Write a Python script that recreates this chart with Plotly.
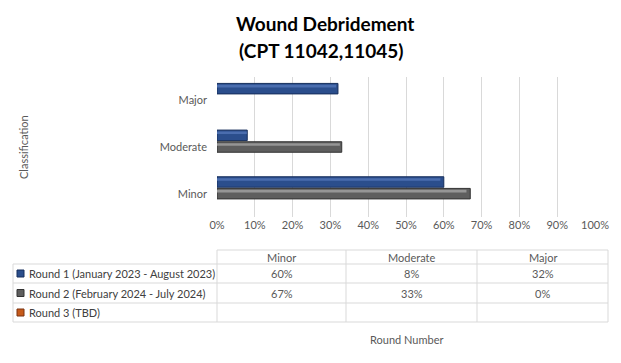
import plotly.graph_objects as go

# ---- data ----
categories = ["Minor", "Moderate", "Major"]
series_names = [
    "Round 1 (January 2023 - August 2023)",
    "Round 2 (February 2024 - July 2024)",
    "Round 3 (TBD)",
]
round1 = [60, 8, 32]
round2 = [67, 33, 0]
round3 = [None, None, None]
x_ticks = [0, 10, 20, 30, 40, 50, 60, 70, 80, 90, 100]
title_lines = ["Wound Debridement", "(CPT 11042,11045)"]
y_title = "Classification"
x_title = "Round Number"

# ---- styling ----
FONT = "Lato"
TXT = "#595959"
GRID = "#D9D9D9"
main_cols = ["#2B4E8C", "#5E5E5E", "#C65A1A"]
edge_cols = ["#172F5C", "#333333", "#7A3210"]
hi_cols = ["#4A6DAE", "#959595", "#E8874A"]
centers = [0.25, 0.0, -0.25]
bw = 0.225

W, H = 621, 363
L, R, T, B = 217, 595, 77, 217


def px(x):
    return (x - L) / (R - L)


def py(y):
    return (B - y) / (B - T)


fig = go.Figure()
ypos = list(range(len(categories)))
all_series = [round1, round2, round3]
for s, vals in enumerate(all_series):
    xv = [None if v is None else v / 100 for v in vals]
    lw = [0 if (v is None or v == 0) else 1 for v in vals]
    fig.add_trace(go.Bar(
        y=ypos, x=xv, orientation="h", name=series_names[s],
        width=bw, offset=centers[s] - bw / 2,
        marker=dict(color=main_cols[s], line=dict(color=edge_cols[s], width=lw)),
        showlegend=False, hoverinfo="x+name",
    ))
    # highlight stripe for bevel look
    fig.add_trace(go.Bar(
        y=ypos, x=[None if v is None or v == 0 else v / 100 * 0.985 for v in vals],
        orientation="h", width=0.055, offset=centers[s] + bw / 2 - 0.085,
        marker=dict(color=hi_cols[s], line=dict(width=0)),
        showlegend=False, hoverinfo="skip",
    ))

fig.update_layout(
    width=W, height=H, autosize=False,
    margin=dict(l=L, r=W - R, t=T, b=H - B, pad=0, autoexpand=False),
    paper_bgcolor="white", plot_bgcolor="white",
    barmode="overlay",
    font=dict(family=FONT, size=11, color=TXT),
    xaxis=dict(range=[0, 1], tickvals=[t / 100 for t in x_ticks],
               ticktext=[f"{t}%" for t in x_ticks], automargin=False,
               showgrid=True, gridcolor=GRID, gridwidth=1,
               zeroline=False, showline=False, ticks="",
               tickfont=dict(size=11, color=TXT)),
    yaxis=dict(range=[-0.5, len(categories) - 0.5], tickvals=ypos, automargin=False,
               ticktext=categories, showgrid=False, zeroline=False,
               showline=False, ticks="", ticklabelstandoff=9,
               tickfont=dict(size=11, color=TXT)),
)

ann = []
shapes = []


def label(text, x, y, size=11, color=TXT, xanchor="center", angle=0, family=FONT):
    ann.append(dict(text=text, x=px(x), y=py(y), xref="paper", yref="paper",
                    xanchor=xanchor, yanchor="middle", textangle=angle,
                    showarrow=False, font=dict(size=size, color=color, family=family)))


# title
label(f"<b>{title_lines[0]}</b>", 325, 23, size=19, color="black")
label(f"<b>{title_lines[1]}</b>", 321, 50, size=19, color="black")
# axis titles
label(y_title, 23, 147, angle=-90)
label(x_title, 406, 339)

# data table
rows_y = [250, 264, 283, 303, 322]
cols_x = [13, 217, 346, 477, 608]


def line(x0, y0, x1, y1):
    shapes.append(dict(type="line", xref="paper", yref="paper", x0=px(x0), y0=py(y0),
                       x1=px(x1), y1=py(y1), line=dict(color=GRID, width=1)))


line(cols_x[1], rows_y[0], cols_x[-1], rows_y[0])
for ry in rows_y[1:]:
    line(cols_x[0], ry, cols_x[-1], ry)
line(cols_x[0], rows_y[1], cols_x[0], rows_y[-1])
for cx in cols_x[1:]:
    line(cx, rows_y[0], cx, rows_y[-1])

for c, cat in enumerate(categories):
    xc = (cols_x[c + 1] + cols_x[c + 2]) / 2
    label(cat, xc, (rows_y[0] + rows_y[1]) / 2)
for s, vals in enumerate(all_series):
    yc = (rows_y[s + 1] + rows_y[s + 2]) / 2
    # legend key
    shapes.append(dict(type="rect", xref="paper", yref="paper",
                       x0=px(17), x1=px(24), y0=py(yc - 3.5), y1=py(yc + 3.5),
                       fillcolor=main_cols[s], line=dict(color=edge_cols[s], width=1)))
    label(series_names[s], 27, yc, color="#404040", xanchor="left")
    for c, v in enumerate(vals):
        if v is None:
            continue
        xc = (cols_x[c + 1] + cols_x[c + 2]) / 2
        label(f"{v}%", xc, yc)

fig.update_layout(annotations=ann, shapes=shapes)
fig.write_html("out.html", config={"responsive": False, "displayModeBar": False},
               post_script="document.body.style.margin='0';document.body.style.overflow='hidden';")
